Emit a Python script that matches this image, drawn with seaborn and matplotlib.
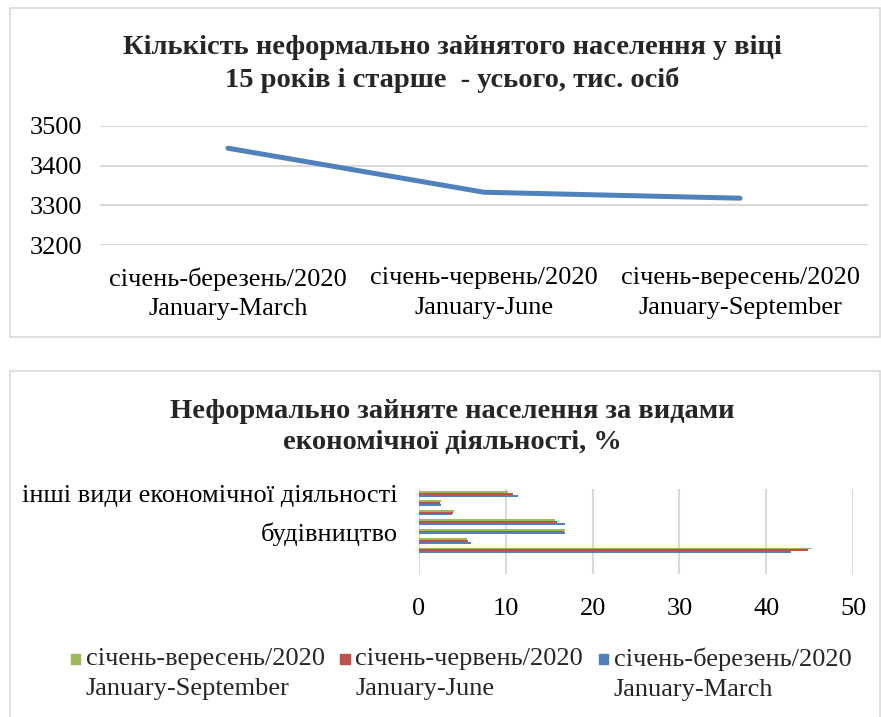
import matplotlib
matplotlib.use("Agg")
import matplotlib.pyplot as plt
import seaborn as sns
import pandas as pd
import numpy as np
from matplotlib.patches import Rectangle
from matplotlib.legend_handler import HandlerPatch

sns.set_theme(style="white")
plt.rcParams['font.family'] = ['Liberation Serif', 'DejaVu Serif']

# --- data: line chart ---
periods = ["січень-березень/2020\nJanuary-March",
           "січень-червень/2020\nJanuary-June",
           "січень-вересень/2020\nJanuary-September"]
informal_total = [3444, 3333, 3318]

# --- data: bars by activity (top to bottom) ---
activities = ["інші види економічної діяльності",
              "тимчасове розміщування й організація харчування",
              "транспорт, складське господарство",
              "оптова та роздрібна торгівля",
              "будівництво",
              "промисловість",
              "сільське господарство"]
shown_labels = ["інші види економічної діяльності", "будівництво"]
series = ["січень-вересень/2020\nJanuary-September",
          "січень-червень/2020\nJanuary-June",
          "січень-березень/2020\nJanuary-March"]
share_sep = [10.3, 2.5, 4.0, 15.7, 16.8, 5.5, 45.3]
share_jun = [10.8, 2.4, 3.9, 15.9, 16.7, 5.7, 44.8]
share_mar = [11.4, 2.5, 3.8, 16.8, 16.8, 6.0, 42.8]
colors = ["#9BBB59", "#C0504D", "#4F81BD"]

W, H = 881, 717
fig = plt.figure(figsize=(W / 100, H / 100), dpi=100)

def fx(px):
    return px / W

def fy(py):
    return 1 - py / H

grid_c = "#D9D9D9"
txt_c = "#000000"
fs = 19

# frames around the two charts
fig.patches.append(Rectangle((fx(10), fy(337)), fx(880) - fx(10), fy(8) - fy(337),
                             transform=fig.transFigure, fill=False, ec=grid_c, lw=1.2))
fig.patches.append(Rectangle((fx(10), fy(730)), fx(880) - fx(10), fy(371) - fy(730),
                             transform=fig.transFigure, fill=False, ec=grid_c, lw=1.2))

# --- line chart ---
ax1 = fig.add_axes([fx(100), fy(245), fx(868) - fx(100), fy(126) - fy(245)])
df_line = pd.DataFrame({"period": periods, "value": informal_total})
sns.lineplot(data=df_line, x="period", y="value", ax=ax1, color="#4F81BD",
             linewidth=3.6, sort=False)
ax1.set_xlim(-0.5, 2.5)
ax1.set_ylim(3200, 3500)
ax1.set_yticks([3200, 3300, 3400, 3500])
ax1.grid(axis="y", color=grid_c, linewidth=1.5)
ax1.set_axisbelow(True)
for s in ax1.spines.values():
    s.set_visible(False)
ax1.tick_params(axis="both", length=0, labelsize=fs, colors=txt_c)
ax1.tick_params(axis="x", pad=16)
ax1.tick_params(axis="y", pad=13)
for t in ax1.get_xticklabels():
    t.set_linespacing(1.45)
ax1.set_xlabel("")
ax1.set_ylabel("")
fig.text(fx(452), fy(47), "Кількість неформально зайнятого населення у віці",
         ha="center", va="center", fontsize=20.5, fontweight="bold")
fig.text(fx(452), fy(80), "15 років і старше  - усього, тис. осіб",
         ha="center", va="center", fontsize=20.5, fontweight="bold")

# --- bar chart ---
ax2 = fig.add_axes([fx(419), fy(574), fx(853) - fx(419), fy(489) - fy(574)])
df_bar = pd.DataFrame({
    "activity": activities * 3,
    "period": np.repeat(series, len(activities)),
    "share": share_sep + share_jun + share_mar,
})
sns.barplot(data=df_bar, y="activity", x="share", hue="period", hue_order=series,
            order=activities, palette=colors, orient="h", width=0.6, ax=ax2,
            legend=False, saturation=1, edgecolor=None, linewidth=0)
ax2.set_ylim(8.5, -0.5)
ax2.set_xlim(0, 50)
ax2.set_xticks([0, 10, 20, 30, 40, 50])
ax2.set_yticks(range(len(activities)))
ax2.set_yticklabels([a if a in shown_labels else "" for a in activities])
ax2.grid(axis="x", color=grid_c, linewidth=1.5)
ax2.set_axisbelow(True)
for s in ax2.spines.values():
    s.set_visible(False)
ax2.tick_params(axis="both", length=0, labelsize=fs, colors=txt_c)
ax2.tick_params(axis="x", pad=17)
ax2.tick_params(axis="y", pad=15.5)
ax2.set_xlabel("")
ax2.set_ylabel("")
fig.text(fx(452), fy(411), "Неформально зайняте населення за видами",
         ha="center", va="center", fontsize=20.5, fontweight="bold")
fig.text(fx(452), fy(442), "економічної діяльності, %",
         ha="center", va="center", fontsize=20.5, fontweight="bold")


def top_square(legend, orig_handle, xdescent, ydescent, width, height, fontsize):
    s = width
    return Rectangle((-xdescent, -ydescent + height - s - 0.2 * fontsize), s, s)


handles = [Rectangle((0, 0), 1, 1, color=c) for c in colors]
leg = fig.legend(handles, series, loc="center", bbox_to_anchor=(fx(461), fy(674)),
                 ncol=3, frameon=False, fontsize=fs, handlelength=0.36,
                 handleheight=2.6, handletextpad=0.2, columnspacing=0.6,
                 handler_map={Rectangle: HandlerPatch(patch_func=top_square)})
for t in leg.get_texts():
    t.set_linespacing(1.45)

fig.savefig("out.png", dpi=100)
